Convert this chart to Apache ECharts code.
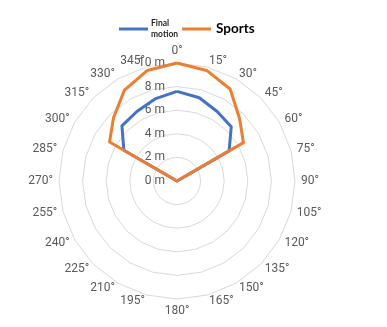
<!DOCTYPE html>
<html><head><meta charset="utf-8">
<script src="https://cdn.jsdelivr.net/npm/echarts@6/dist/echarts.min.js"></script>
<style>html,body{margin:0;padding:0;background:#fff}#c{width:387px;height:327px}</style>
</head><body><div id="c"></div>
<script>
// Angle categories (clockwise from top) and their labels
const angleLabels = ['0°','15°','30°','45°','60°','75°','90°','105°','120°','135°','150°','165°','180°','195°','210°','225°','240°','255°','270°','285°','300°','315°','330°','345°'];
// Distance values (m) per angle
const finalMotion = [7.6,7.3,6.8,6.5,5.1,0,0,0,0,0,0,0,0,0,0,0,0,0,0,0,5.2,6.6,6.8,7.2];
const sports      = [10,9.7,9.0,7.5,6.5,0,0,0,0,0,0,0,0,0,0,0,0,0,0,0,6.6,7.6,8.9,9.7];
// Radial tick labels
const radialTicks = ['0 m','2 m','4 m','6 m','8 m','10 m'];
const seriesNames = ['Final\nmotion','Sports'];

// ECharts radar runs counter-clockwise: reorder so angles go clockwise
const order = [0];
for (let i = angleLabels.length - 1; i >= 1; i--) order.push(i);
const reorder = arr => order.map(i => arr[i]);

const indicators = reorder(angleLabels).map((n, k) => {
  const ind = { name: n, min: 0, max: 10 };
  if (k === 0) {
    ind.axisLabel = {
      show: true, color: '#595959', fontSize: 12, fontFamily: 'Roboto', margin: 12,
      formatter: v => radialTicks[Math.round(v / 2)]
    };
  }
  return ind;
});

const chart = echarts.init(document.getElementById('c'), null, { renderer: 'canvas' });
chart.setOption({
  animation: false,
  backgroundColor: '#fff',
  legend: {
    left: 114, top: 13, itemWidth: 29, itemHeight: 3, itemGap: 4, icon: 'rect',
    data: [
      { name: seriesNames[0], textStyle: { fontSize: 8.5, fontWeight: 'bold', fontFamily: 'Lato', color: '#262626', lineHeight: 11, padding: [0,0,0,-2] } },
      { name: seriesNames[1], textStyle: { fontSize: 13.5, fontWeight: 'bold', fontFamily: 'Lato', color: '#000' } }
    ]
  },
  radar: {
    center: [177, 181],
    radius: 118,
    startAngle: 90,
    shape: 'polygon',
    splitNumber: 5,
    indicator: indicators,
    axisName: { color: '#595959', fontSize: 12, fontFamily: 'Roboto' },
    nameGap: 6,
    axisLine: { show: false },
    axisTick: { show: false },
    axisLabel: { show: false },
    splitLine: { lineStyle: { color: '#d9d9d9', width: 1 } },
    splitArea: { show: false }
  },
  series: [{
    type: 'radar',
    symbol: 'none',
    data: [
      { name: seriesNames[0], value: reorder(finalMotion), lineStyle: { color: '#4472C4', width: 3 }, itemStyle: { color: '#4472C4' } },
      { name: seriesNames[1], value: reorder(sports), lineStyle: { color: '#ED7D31', width: 3 }, itemStyle: { color: '#ED7D31' } }
    ]
  }]
});
</script></body></html>
